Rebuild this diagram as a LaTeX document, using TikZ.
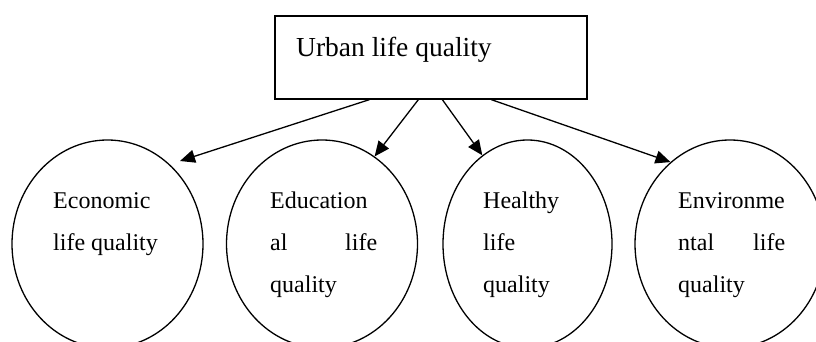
\documentclass[tikz,border=0pt]{standalone}
\usepackage{fontspec}
\setmainfont{Liberation Serif}
\usetikzlibrary{shapes.geometric,arrows.meta,calc}
\begin{document}
\begin{tikzpicture}[x=1pt,y=-1pt,
  outline/.style={draw=black,line width=1.3pt},
  oval/.style={outline,ellipse,inner sep=0pt,minimum height=208pt},
  lbl/.style={anchor=base west,inner sep=0pt,font=\fontsize{24}{42}\selectfont},
  link/.style={line width=1.3pt,-{Triangle[length=15pt,width=13pt]}}]
\useasboundingbox (0,0) rectangle (816,342);
\clip (0,0) rectangle (816,342);
\node[outline,rectangle,minimum width=312pt,minimum height=83pt,inner sep=0pt] (box) at (431,57.5) {};
\node[anchor=base west,inner sep=0pt,font=\fontsize{27.5}{33}\selectfont] (boxtext) at (296,57) {Urban life quality};
\node[oval,minimum width=191pt] (e1) at (107.5,244) {};
\node[oval,minimum width=191pt] (e2) at (322,244) {};
\node[oval,minimum width=169pt] (e3) at (527.5,244) {};
\node[oval,minimum width=190pt] (e4) at (730,244) {};
\node[lbl] (t1) at (53,208) {\parbox[t]{107pt}{Economic\\life quality}};
\node[lbl] (t2) at (270,208) {\parbox[t]{107pt}{Education\\al\hfill life\\quality}};
\node[lbl] (t3) at (483,208) {\parbox[t]{107pt}{Healthy\\life\\quality}};
\node[lbl] (t4) at (678,208) {\parbox[t]{107pt}{Environme\\ntal\hfill life\\quality}};
\coordinate (e1in) at ($(e1.center)+(72.5,-83)$);
\draw[link] ([xshift=95pt]box.south west) -- (e1in);
\draw[link] ([xshift=144pt]box.south west) -- (e2.59);
\draw[link] ([xshift=168pt]box.south west) -- (e3.117.6);
\draw[link] ([xshift=217pt]box.south west) -- (e4.126.5);
\end{tikzpicture}
\end{document}
